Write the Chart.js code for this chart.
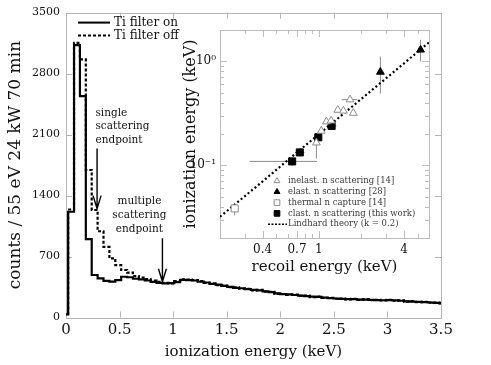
<!DOCTYPE html>
<html>
<head>
<meta charset="utf-8">
<script src="https://cdn.jsdelivr.net/npm/chart.js@4.4.0/dist/chart.umd.min.js"></script>
<style>
  html, body { margin: 0; padding: 0; background: #fff; }
  #wrap { position: relative; width: 491px; height: 365px; }
  #wrap canvas { position: absolute; left: 0; top: 0; }
</style>
</head>
<body>
<div id="wrap">
  <canvas id="spectrum" width="491" height="365"></canvas>
  <canvas id="inset" width="491" height="365"></canvas>
</div>
<script>
// histogram bins (keV), 55 eV wide
const binStart = -0.035;
const binWidth = 0.055;

// counts per bin, Ti filter on / off
const countsTiOn = [37, 1214, 3127, 2542, 900, 488, 450, 420, 411, 430, 468, 462, 445, 438, 425, 410, 398, 392, 395, 405,
  432, 428, 425, 412, 402, 385, 378, 362, 352, 340, 336, 325, 318, 312, 300, 292, 276, 268, 265, 258,
  252, 245, 240, 236, 228, 222, 218, 214, 212, 210, 205, 206, 202, 200, 198, 200, 196, 192, 186, 183,
  180, 176, 172, 168, 165];
const countsTiOff = [45, 1240, 3153, 2963, 1693, 1234, 990, 810, 679, 602, 545, 514, 476, 457, 440, 425, 410, 398, 392, 418,
  438, 435, 430, 418, 398, 392, 372, 366, 348, 345, 330, 328, 312, 316, 296, 295, 272, 270, 260, 262,
  248, 250, 235, 240, 225, 226, 215, 218, 208, 214, 202, 210, 198, 204, 195, 203, 192, 196, 183, 187,
  176, 180, 170, 171, 163];

const mainXTicks = [0, 0.5, 1, 1.5, 2, 2.5, 3, 3.5];
const mainYTicks = [0, 700, 1400, 2100, 2800, 3500];

// inset: recoil energy (keV) vs ionization energy (keV)
const inelE = [1.66, 1.36, 1.49, 1.75, 1.13, 1.22, 1.04, 0.96];
const inelQ = [0.428, 0.34, 0.334, 0.318, 0.263, 0.268, 0.214, 0.165];
const inelErrE = [[1.45, 1.87], null, null, null, null, null, null, null];
const inelErrQ = [null, null, null, null, null, null, null, [0.116, 0.19]];

const elastE = [2.72, 5.23];
const elastQ = [0.79, 1.29];
const elastErrQ = [[0.49, 1.11], [1.0, 1.61]];

const thermalE = [0.254];
const thermalQ = [0.0385];
const thermalErrQ = [[0.033, 0.043]];

const thisWorkE = [0.647, 0.733, 0.99, 1.23];
const thisWorkQ = [0.109, 0.133, 0.186, 0.239];
const thisWorkErrE = [[0.324, 0.97], [0.68, 0.79], [0.92, 1.05], [1.13, 1.33]];
const thisWorkErrQ = [[0.098, 0.121], [0.123, 0.141], [0.172, 0.2], [0.225, 0.255]];

const lindhardE = [0.2, 0.4, 0.7, 1, 2, 4, 6];
const lindhardQ = [0.032, 0.07, 0.133, 0.199, 0.436, 0.957, 1.52];

const insetXTicks = [0.2, 0.3, 0.4, 0.5, 0.6, 0.7, 0.8, 0.9, 1, 2, 3, 4, 5, 6];
const insetXLabels = [0.4, 0.7, 1, 4];
const insetYTicks = [0.02, 0.03, 0.04, 0.05, 0.06, 0.07, 0.08, 0.09, 0.1, 0.2, 0.3, 0.4, 0.5, 0.6, 0.7, 0.8, 0.9, 1, 2];
const insetYLabels = { '0.1': '10⁻¹', '1': '10⁰' };

Chart.defaults.font.family = '"DejaVu Serif", serif';
Chart.defaults.color = '#111';

function steps(counts) {
  const pts = counts.map((c, i) => ({ x: binStart + i * binWidth, y: c }));
  pts.push({ x: binStart + counts.length * binWidth, y: counts[counts.length - 1] });
  return pts;
}
function pts(xs, ys) {
  return xs.map((v, i) => ({ x: v, y: ys[i] }));
}
function near(a, b) { return Math.abs(a - b) < 1e-9 * Math.max(1, Math.abs(b)); }

// frame with inward ticks on all four sides
const frameTicks = {
  id: 'frameTicks',
  beforeDatasetsDraw(chart, args, opts) {
    const { ctx, chartArea: a, scales } = chart;
    ctx.save();
    ctx.strokeStyle = opts.color;
    ctx.lineWidth = 1;
    ctx.strokeRect(Math.round(a.left) + 0.5, Math.round(a.top) + 0.5, Math.round(a.right - a.left), Math.round(a.bottom - a.top));
    ctx.beginPath();
    scales.x.ticks.forEach((t) => {
      const px = Math.round(scales.x.getPixelForValue(t.value)) + 0.5;
      const len = t.label ? opts.major : opts.minor;
      ctx.moveTo(px, a.bottom); ctx.lineTo(px, a.bottom - len);
      ctx.moveTo(px, a.top); ctx.lineTo(px, a.top + len);
    });
    scales.y.ticks.forEach((t) => {
      const py = Math.round(scales.y.getPixelForValue(t.value)) + 0.5;
      const len = t.label ? opts.major : opts.minor;
      ctx.moveTo(a.left, py); ctx.lineTo(a.left + len, py);
      ctx.moveTo(a.right, py); ctx.lineTo(a.right - len, py);
    });
    ctx.stroke();
    ctx.restore();
  }
};

// legend + annotations of the spectrum
const spectrumNotes = {
  id: 'spectrumNotes',
  afterDatasetsDraw(chart) {
    const { ctx, chartArea: a, scales: { x, y } } = chart;
    ctx.save();
    ctx.textBaseline = 'middle';
    ctx.fillStyle = '#111';
    ctx.font = '12px "DejaVu Serif"';
    chart.data.datasets.forEach((ds, i) => {
      const ly = a.top + 10 + i * 13;
      ctx.strokeStyle = '#000';
      ctx.lineWidth = 2;
      ctx.setLineDash(ds.borderDash || []);
      ctx.beginPath(); ctx.moveTo(a.left + 12, ly); ctx.lineTo(a.left + 44, ly); ctx.stroke();
      ctx.setLineDash([]);
      ctx.fillText(ds.label, a.left + 48, ly);
    });

    ctx.font = '10.5px "DejaVu Serif"';
    ctx.textAlign = 'left';
    ['single', 'scattering', 'endpoint'].forEach((s, i) => {
      ctx.fillText(s, x.getPixelForValue(0.275), y.getPixelForValue(2347) + i * 13.5);
    });
    ctx.textAlign = 'center';
    ['multiple', 'scattering', 'endpoint'].forEach((s, i) => {
      ctx.fillText(s, x.getPixelForValue(0.685), y.getPixelForValue(1329) + i * 13.8);
    });

    const arrow = (xv, y0, y1) => {
      const px = x.getPixelForValue(xv), top = y.getPixelForValue(y0), tip = y.getPixelForValue(y1);
      ctx.strokeStyle = '#000';
      ctx.lineWidth = 1.4;
      ctx.beginPath();
      ctx.moveTo(px, top); ctx.lineTo(px, tip);
      ctx.moveTo(px - 4, tip - 13); ctx.lineTo(px, tip); ctx.lineTo(px + 4, tip - 13);
      ctx.stroke();
    };
    arrow(0.29, 1941, 1250);
    arrow(0.9, 909, 411);
    ctx.restore();
  }
};

new Chart(document.getElementById('spectrum'), {
  type: 'line',
  data: {
    datasets: [
      { label: 'Ti filter on', data: steps(countsTiOn), borderColor: '#000', borderWidth: 2.2,
        stepped: true, pointRadius: 0, clip: 0 },
      { label: 'Ti filter off', data: steps(countsTiOff), borderColor: '#000', borderWidth: 2.2,
        borderDash: [3, 2], stepped: true, pointRadius: 0, clip: 0 }
    ]
  },
  options: {
    responsive: false,
    animation: false,
    layout: { padding: { top: 12, right: 50, left: 0, bottom: 0 } },
    plugins: {
      legend: { display: false },
      tooltip: { enabled: false },
      frameTicks: { color: '#b4b4b4', major: 6, minor: 3 }
    },
    scales: {
      x: {
        type: 'linear', min: 0, max: 3.5,
        afterBuildTicks: (s) => { s.ticks = mainXTicks.map((v) => ({ value: v })); },
        afterFit: (s) => { s.height = 47.5; },
        grid: { display: false, drawTicks: false },
        border: { display: false },
        ticks: { padding: 4, font: { size: 15 }, autoSkip: false, maxRotation: 0, callback: (v) => String(v) },
        title: { display: true, text: 'ionization energy (keV)', font: { size: 15 }, padding: { top: 0, bottom: 4 } }
      },
      y: {
        type: 'linear', min: 0, max: 3500,
        afterBuildTicks: (s) => { s.ticks = mainYTicks.map((v) => ({ value: v })); },
        afterFit: (s) => { s.width = 66; },
        grid: { display: false, drawTicks: false },
        border: { display: false },
        ticks: { padding: 6, font: { size: 11 }, autoSkip: false, callback: (v) => String(v) },
        title: { display: true, text: 'counts / 55 eV 24 kW 70 min', font: { size: 17 }, padding: { top: 5, bottom: 0 } }
      }
    }
  },
  plugins: [frameTicks, spectrumNotes]
});

// error bars for the inset points
const errorBars = {
  id: 'errorBars',
  beforeDatasetsDraw(chart) {
    const { ctx, scales: { x, y } } = chart;
    ctx.save();
    ctx.strokeStyle = '#8a8a8a';
    ctx.lineWidth = 1;
    chart.data.datasets.forEach((ds) => {
      ds.data.forEach((p, i) => {
        const ex = ds.errX && ds.errX[i];
        const ey = ds.errY && ds.errY[i];
        const px = x.getPixelForValue(p.x), py = y.getPixelForValue(p.y);
        ctx.beginPath();
        if (ex) { ctx.moveTo(x.getPixelForValue(ex[0]), py); ctx.lineTo(x.getPixelForValue(ex[1]), py); }
        if (ey) { ctx.moveTo(px, y.getPixelForValue(ey[0])); ctx.lineTo(px, y.getPixelForValue(ey[1])); }
        ctx.stroke();
      });
    });
    ctx.restore();
  }
};

// key in the lower right of the inset
const insetKey = {
  id: 'insetKey',
  afterDatasetsDraw(chart) {
    const { ctx, chartArea: a } = chart;
    ctx.save();
    ctx.font = '8.5px "DejaVu Serif"';
    ctx.textBaseline = 'middle';
    const x0 = a.left + 57, tx = a.left + 68;
    chart.data.datasets.forEach((ds, i) => {
      const ly = a.top + 151 + i * 10.8;
      if (ds.showLine) {
        ctx.strokeStyle = ds.borderColor;
        ctx.lineWidth = 1.6;
        ctx.setLineDash([2, 1.5]);
        ctx.beginPath(); ctx.moveTo(a.left + 48, ly); ctx.lineTo(a.left + 67, ly); ctx.stroke();
        ctx.setLineDash([]);
      } else {
        ctx.strokeStyle = ds.borderColor;
        ctx.fillStyle = ds.backgroundColor;
        ctx.lineWidth = ds.borderWidth;
        Chart.helpers.drawPoint(ctx, { pointStyle: ds.pointStyle, radius: ds.pointStyle === 'rect' ? 4 : 3.4, rotation: 0, borderWidth: ds.borderWidth }, x0, ly);
      }
      ctx.fillStyle = '#3a3a3a';
      ctx.fillText(ds.label, tx, ly);
    });
    ctx.restore();
  }
};

new Chart(document.getElementById('inset'), {
  type: 'scatter',
  data: {
    datasets: [
      { label: 'inelast. n scattering [14]', data: pts(inelE, inelQ), errX: inelErrE, errY: inelErrQ,
        pointStyle: 'triangle', pointRadius: 4.5, borderColor: '#8c8c8c', backgroundColor: '#fff', borderWidth: 1 },
      { label: 'elast. n scattering [28]', data: pts(elastE, elastQ), errY: elastErrQ,
        pointStyle: 'triangle', pointRadius: 4.5, borderColor: '#000', backgroundColor: '#000', borderWidth: 1 },
      { label: 'thermal n capture [14]', data: pts(thermalE, thermalQ), errY: thermalErrQ,
        pointStyle: 'rect', pointRadius: 5, borderColor: '#8c8c8c', backgroundColor: '#fff', borderWidth: 1 },
      { label: 'clast. n scattering (this work)', data: pts(thisWorkE, thisWorkQ), errX: thisWorkErrE, errY: thisWorkErrQ,
        pointStyle: 'rect', pointRadius: 5, borderColor: '#000', backgroundColor: '#000', borderWidth: 1 },
      { label: 'Lindhard theory (k = 0.2)', data: pts(lindhardE, lindhardQ), showLine: true, order: 1,
        borderColor: '#000', borderWidth: 2.2, borderDash: [2, 2.5], pointRadius: 0, backgroundColor: '#000' }
    ]
  },
  options: {
    responsive: false,
    animation: false,
    layout: { padding: { left: 175, top: 30, right: 62, bottom: 82 } },
    plugins: {
      legend: { display: false },
      tooltip: { enabled: false },
      frameTicks: { color: '#bdbdbd', major: 7, minor: 4 }
    },
    scales: {
      x: {
        type: 'logarithmic', min: 0.2, max: 6,
        afterBuildTicks: (s) => { s.ticks = insetXTicks.map((v) => ({ value: v })); },
        afterFit: (s) => { s.height = 45; },
        grid: { display: false, drawTicks: false },
        border: { display: false },
        ticks: { padding: 5, font: { size: 12 }, autoSkip: false, maxRotation: 0,
          callback: (v) => (insetXLabels.some((l) => near(v, l)) ? String(v) : '') },
        title: { display: true, text: 'recoil energy (keV)', font: { size: 15 }, padding: { top: 0, bottom: 7 } }
      },
      y: {
        type: 'logarithmic', min: 0.02, max: 2,
        afterBuildTicks: (s) => { s.ticks = insetYTicks.map((v) => ({ value: v })); },
        afterFit: (s) => { s.width = 45; },
        grid: { display: false, drawTicks: false },
        border: { display: false },
        ticks: { padding: 4, font: { size: 12 }, autoSkip: false,
          callback: (v) => { const k = Object.keys(insetYLabels).find((l) => near(v, Number(l))); return k ? insetYLabels[k] : ''; } },
        title: { display: true, text: 'ionization energy (keV)', font: { size: 16 }, padding: { top: 6, bottom: 0 } }
      }
    }
  },
  plugins: [frameTicks, errorBars, insetKey]
});
</script>
</body>
</html>
